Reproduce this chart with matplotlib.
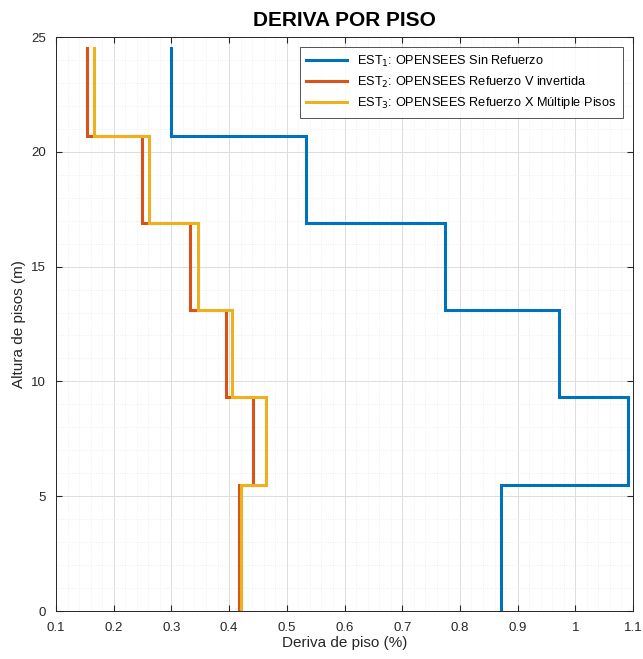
import numpy as np
import matplotlib
matplotlib.use("Agg")
import matplotlib.pyplot as plt
from matplotlib.ticker import MultipleLocator

plt.rcParams['font.family'] = ['Liberation Sans', 'DejaVu Sans']

# Floor levels (m): base, then each storey top
niveles = [0.0, 5.5, 9.3, 13.1, 16.9, 20.7, 24.5]

# Storey drift (%) per storey, from ground to roof
deriva_est1 = [0.872, 1.092, 0.972, 0.774, 0.533, 0.300]
deriva_est2 = [0.418, 0.442, 0.394, 0.332, 0.249, 0.153]
deriva_est3 = [0.421, 0.464, 0.405, 0.346, 0.262, 0.165]

etiquetas = [
    r'EST$_1$: OPENSEES Sin Refuerzo',
    r'EST$_2$: OPENSEES Refuerzo V invertida',
    r'EST$_3$: OPENSEES Refuerzo X Múltiple Pisos',
]
colores = ['#0072BD', '#D95319', '#EDB120']


def escalones(deriva, alturas):
    """Vertical segment per storey, joined by horizontal steps."""
    x = np.repeat(deriva, 2)
    y = np.column_stack([alturas[:-1], alturas[1:]]).ravel()
    return x, y


fig = plt.figure(figsize=(6.43, 6.59), dpi=100)
ax = fig.add_axes([56 / 643, 1 - 611 / 659, 577 / 643, 574 / 659])

for deriva, lab, col in zip([deriva_est1, deriva_est2, deriva_est3], etiquetas, colores):
    x, y = escalones(deriva, niveles)
    ax.plot(x, y, color=col, lw=2.2, label=lab, solid_joinstyle='miter')

ax.set_xlim(0.1, 1.1)
ax.set_ylim(0, 25)
ax.xaxis.set_minor_locator(MultipleLocator(0.02))
ax.yaxis.set_major_locator(MultipleLocator(5))
ax.yaxis.set_minor_locator(MultipleLocator(1))
ax.set_xticks(np.round(np.arange(0.1, 1.11, 0.1), 1))
ax.set_xticklabels(['0.1', '0.2', '0.3', '0.4', '0.5', '0.6', '0.7', '0.8', '0.9', '1', '1.1'])

ax.grid(True, which='major', color='#dcdcdc', lw=0.7)
ax.grid(True, which='minor', color='#ececec', lw=0.6, ls=':')
ax.set_axisbelow(True)

ax.tick_params(which='both', direction='in', top=True, right=True,
               labelsize=9.5, colors='#262626')
ax.tick_params(which='major', length=4)
ax.tick_params(which='minor', length=0)
ax.tick_params(axis='x', pad=8)
ax.tick_params(axis='y', pad=7)
for s in ax.spines.values():
    s.set_color('#262626')
    s.set_linewidth(0.7)

ax.set_xlabel('Deriva de piso (%)', fontsize=11, color='#262626', labelpad=1)
ax.set_ylabel('Altura de pisos (m)', fontsize=11, color='#262626', labelpad=4)
ax.set_title('DERIVA POR PISO', fontsize=15, fontweight='bold', pad=8)

leg = ax.legend(loc='upper right', fontsize=9.2, frameon=True, fancybox=False,
                edgecolor='#262626', borderaxespad=0.8, handlelength=3.2,
                labelspacing=0.45, borderpad=0.5)
leg.get_frame().set_linewidth(0.7)

fig.savefig('out.png', dpi=100)
